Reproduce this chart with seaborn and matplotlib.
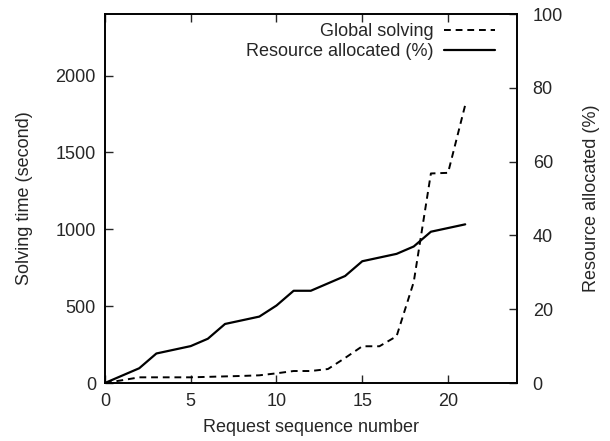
import matplotlib
matplotlib.use("Agg")
import matplotlib.pyplot as plt
import pandas as pd
import seaborn as sns

request_seq = list(range(22))
solving_time = [0, 18, 37, 37, 37, 37, 40, 43, 46, 50, 63, 78, 78, 91, 163,
                239, 239, 304, 657, 1363, 1367, 1808]
resource_pct = [0, 2, 4, 8, 9, 10, 12, 16, 17, 18, 21, 25, 25, 27, 29,
                33, 34, 35, 37, 41, 42, 43]

df = pd.DataFrame({"seq": request_seq, "time": solving_time, "res": resource_pct})

sns.set_style("ticks")
plt.rcParams["font.family"] = ["Liberation Sans", "DejaVu Sans"]
plt.rcParams["font.size"] = 13

fig = plt.figure(figsize=(6.1, 4.41), dpi=100)
ax = fig.add_axes([0.172, 0.1315, 0.675, 0.8367])
ax2 = ax.twinx()

sns.lineplot(data=df, x="seq", y="time", ax=ax, color="black", linewidth=1.4,
             linestyle=(0, (3.5, 2.5)), legend=False)
sns.lineplot(data=df, x="seq", y="res", ax=ax2, color="black", linewidth=1.6,
             legend=False)

ax.set_xlim(0, 24)
ax.set_ylim(0, 2400)
ax2.set_ylim(0, 100)
ax.set_xticks([0, 5, 10, 15, 20])
ax.set_yticks([0, 500, 1000, 1500, 2000])
ax2.set_yticks([0, 20, 40, 60, 80, 100])

ax.set_xlabel("Request sequence number", fontsize=13)
ax.set_ylabel("Solving time (second)", fontsize=13)
ax2.set_ylabel("Resource allocated (%)", fontsize=13)
ax.yaxis.set_label_coords(-0.175, 0.5)
ax2.yaxis.set_label_coords(1.16, 0.5)
ax.xaxis.set_label_coords(0.5, -0.098)

ax.tick_params(axis="x", direction="in", top=True, length=6, width=1, labelsize=13, pad=7)
ax.tick_params(axis="y", direction="in", right=False, length=6, width=1, labelsize=13, pad=6.5)
ax2.tick_params(axis="y", direction="in", length=6, width=1, labelsize=13, pad=11.5)
for a in (ax, ax2):
    for s in a.spines.values():
        s.set_linewidth(1.2)
        s.set_color("black")

handles = ax.get_lines()[:1] + ax2.get_lines()[:1]
labels = ["Global solving", "Resource allocated (%)"]
ax2.legend(handles, labels, loc="upper right", bbox_to_anchor=(0.947, 0.975),
           frameon=False, markerfirst=False, fontsize=13, handlelength=2.8,
           borderaxespad=0, borderpad=0, labelspacing=0.18, handletextpad=0.6)

fig.savefig("out.png", dpi=100)
